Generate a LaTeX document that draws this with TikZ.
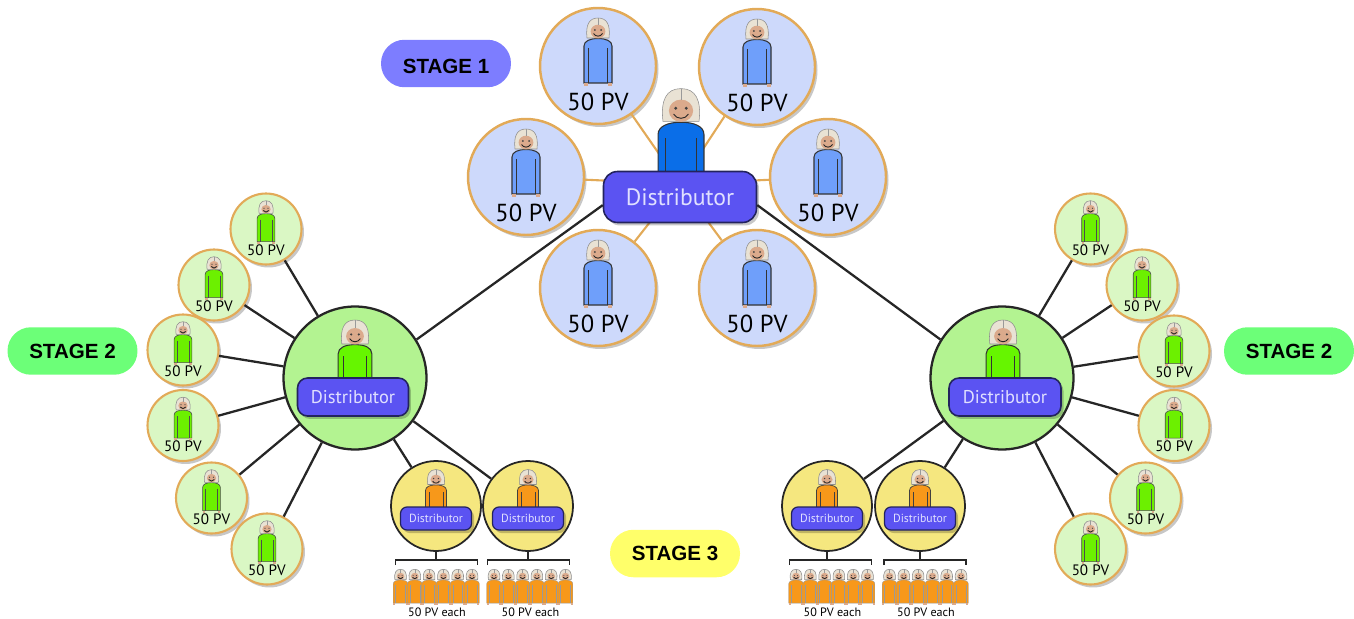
\documentclass[tikz,border=0pt]{standalone}
\usepackage{fontspec}
\usepackage{tikz}
\usetikzlibrary{shadows}
\setmainfont{PT Sans}
\newfontfamily\stagefont{Liberation Sans}
\definecolor{bluefill}{HTML}{CDD9FB}
\definecolor{greenfill}{HTML}{DAF7C4}
\definecolor{hubgreen}{HTML}{B3F391}
\definecolor{hubyellow}{HTML}{F5E77F}
\definecolor{tanline}{HTML}{E2AA58}
\definecolor{boxblue}{HTML}{5B53F2}
\definecolor{boxline}{HTML}{23235E}
\definecolor{shirtblue}{HTML}{6F9FFA}
\definecolor{shirtdeep}{HTML}{0A6EE8}
\definecolor{shirtgreen}{HTML}{6CF000}
\definecolor{shirtlime}{HTML}{66F500}
\definecolor{shirtorange}{HTML}{F7981A}
\definecolor{hairtone}{HTML}{E9E2D4}
\definecolor{skintone}{HTML}{DBAA8C}
\definecolor{stagebluefill}{HTML}{7D7DFF}
\definecolor{stagegreenfill}{HTML}{6CFF78}
\definecolor{stageyellowfill}{HTML}{FFFF6A}
\tikzset{softshadow/.style = {drop shadow = {shadow xshift = 0.05cm, shadow yshift = -0.06cm,
                                              opacity = 0.22, fill = black}}}
\tikzset{bluecirc/.style = {circle, draw = tanline, fill = bluefill, line width = 1.4pt,
                            minimum size = 2.32cm, inner sep = 0, softshadow}}
\tikzset{greencirc/.style = {circle, draw = tanline, fill = greenfill, line width = 1.2pt,
                             minimum size = 1.42cm, inner sep = 0, softshadow}}
\tikzset{hubcirc/.style = {circle, draw = black!85, fill = hubgreen, line width = 1.3pt,
                           minimum size = 2.86cm, inner sep = 0}}
\tikzset{yellowcirc/.style = {circle, draw = black!85, fill = hubyellow, line width = 1pt,
                              minimum size = 1.8cm, inner sep = 0}}
\tikzset{distbox/.style = {rectangle, rounded corners = 0.28cm, draw = boxline, fill = boxblue,
                           line width = 0.9pt, text = white!88!blue, inner sep = 0, softshadow}}
\tikzset{stagepill/.style = {rectangle, rounded corners = 0.47cm, minimum width = 2.6cm,
                             minimum height = 0.95cm, inner sep = 0,
                             font = \stagefont\bfseries\fontsize{11.7}{12}\selectfont}}
\tikzset{link/.style = {draw = black!85, line width = 1.3pt}}
\tikzset{tanlink/.style = {draw = tanline, line width = 1.2pt}}
\tikzset{figline/.style = {draw = black!80, line width = 0.6pt}}
\tikzset{pics/person/.style = {code = {
      \draw [figline, fill = #1] (-14, 55) -- (-14, 18) .. controls (-14, 13) and (-8, 10.5) .. (0, 10.5)
            .. controls (8, 10.5) and (14, 13) .. (14, 18) -- (14, 55) -- cycle;
      \draw [figline] (-9.5, 20) -- (-9.5, 55);
      \draw [figline] (9.5, 20) -- (9.5, 55);
      \fill [skintone] (-14, 55) rectangle (-10, 58);
      \fill [skintone] (10, 55) rectangle (14, 58);
      \draw [draw = black!45, line width = 0.3pt, fill = hairtone] (-11, 10) .. controls (-12.5, -3) and (-9, -10) .. (0, -10)
            .. controls (9, -10) and (12.5, -3) .. (11, 10) -- cycle;
      \fill [skintone] (0, 3.5) ellipse [x radius = 7.4, y radius = 6.8];
      \draw [black!40, line width = 0.2pt] (0, -10) -- (0, -3);
      \fill [black!75] (-3.2, 2) circle [radius = 1];
      \fill [black!75] (3.2, 2) circle [radius = 1];
      \draw [black!85, line width = 0.5pt] (-4.5, 5.5) .. controls (-2.5, 9) and (2.5, 9) .. (4.5, 5.5);
    }}}
\begin{document}
\begin{tikzpicture}[x = 0.02cm, y = -0.02cm]
      \useasboundingbox (0, 0) rectangle (1354, 618);

      % leaves round the top distributor
      \foreach \name/\x/\y in {topa/598/66, topb/757/67, topc/526/177, topd/828/177, tope/598/288, topf/757/288} {
        \node [bluecirc] (\name) at (\x, \y) {};
        \pic [scale = 1] at (\x, \y - 38) {person = shirtblue};
        \node (\name txt) at (\x, \y + 36) {\fontsize{14}{14}\selectfont 50 PV};
      }
      \coordinate (topmid) at (680, 184);
      \foreach \name in {topa, topb, topc, topd, tope, topf} {
        \draw [tanlink] (topmid) -- (\name);
      }
      \pic [scale = 1.64] at (681, 105) {person = shirtdeep};
      \node [distbox, minimum width = 3.06cm, minimum height = 1.02cm, font = \fontsize{13.5}{14}\selectfont] (tophub) at (680, 197) {Distributor};

      % the two stage 2 distributors
      \node [hubcirc] (lefthub) at (355, 378) {};
      \pic [scale = 1.2] at (355, 332) {person = shirtlime};
      \node [distbox, minimum width = 2.22cm, minimum height = 0.76cm, rounded corners = 0.2cm, font = \fontsize{10.5}{11}\selectfont] (leftbox) at (353, 397) {Distributor};
      \node [hubcirc] (righthub) at (1002, 378) {};
      \pic [scale = 1.2] at (1003, 332) {person = shirtlime};
      \node [distbox, minimum width = 2.24cm, minimum height = 0.76cm, rounded corners = 0.2cm, font = \fontsize{10.5}{11}\selectfont] (rightbox) at (1005, 397) {Distributor};
      \draw [link] (tophub.186) -- (lefthub.32);
      \draw [link] (tophub.354) -- (righthub.148);

      \foreach \side/\name/\x/\y in {lefthub/la/266/229, lefthub/lb/214/285, lefthub/lc/183/350, lefthub/ld/183/425.5, lefthub/le/211.5/498, lefthub/lf/267/549,
                                     righthub/ra/1090.5/229, righthub/rb/1142/285, righthub/rc/1174/351, righthub/rd/1174/425.5, righthub/re/1145.5/498, righthub/rf/1090.5/549} {
        \node [greencirc] (\name) at (\x, \y) {};
        \pic [scale = 0.63, figline/.style = {draw = black!70, line width = 0.35pt}] at (\x, \y - 22) {person = shirtgreen};
        \node (\name txt) at (\x, \y + 21) {\fontsize{8.6}{9}\selectfont 50 PV};
        \draw [link] (\side) -- (\name);
      }

      % stage 3 distributors with their rows
      \foreach \side/\name/\x/\bx/\mx in {lefthub/ya/436/436.5/436.5, lefthub/yb/528/528.5/530, righthub/yc/827/830.5/832, righthub/yd/920/925/925.5} {
        \node [yellowcirc] (\name) at (\x, 506) {};
        \pic [scale = 0.75, figline/.style = {draw = black!75, line width = 0.4pt}] at (\x, 477) {person = shirtorange};
        \node [distbox, minimum width = 1.42cm, minimum height = 0.46cm, rounded corners = 0.13cm, line width = 0.7pt, font = \fontsize{6.7}{7}\selectfont] (\name box) at (\x, 518.5) {Distributor};
        \draw [link] (\side) -- (\name);
        \coordinate (\name tee) at (\x, 560);
        \draw [link, line width = 1pt] (\name) -- (\name tee);
        \coordinate (\name west) at (\bx - 41, 560);
        \coordinate (\name east) at (\bx + 41, 560);
        \draw [link, line width = 1pt] ([yshift = -0.1cm] \name west) -- (\name west) -- (\name east) -- ([yshift = -0.1cm] \name east);
        \foreach \i in {0, ..., 5} {
          \pic [scale = 0.52, figline/.style = {draw = black!40, line width = 0.2pt}] at (\mx - 36 + 14.3 * \i, 574.5) {person = shirtorange};
        }
        \node (\name txt) at (\mx + 0.5, 612) {\fontsize{6.9}{7}\selectfont 50 PV each};
      }

      \node [stagepill, fill = stagebluefill, text height = 11.4pt, text depth = 0pt] (stagea) at (446, 63.5) {STAGE 1};
      \node [stagepill, fill = stagegreenfill] (stageb) at (72.5, 351) {STAGE 2};
      \node [stagepill, fill = stagegreenfill] (stagec) at (1289, 351) {STAGE 2};
      \node [stagepill, fill = stageyellowfill] (staged) at (675, 553.5) {STAGE 3};
    \end{tikzpicture}
\end{document}
